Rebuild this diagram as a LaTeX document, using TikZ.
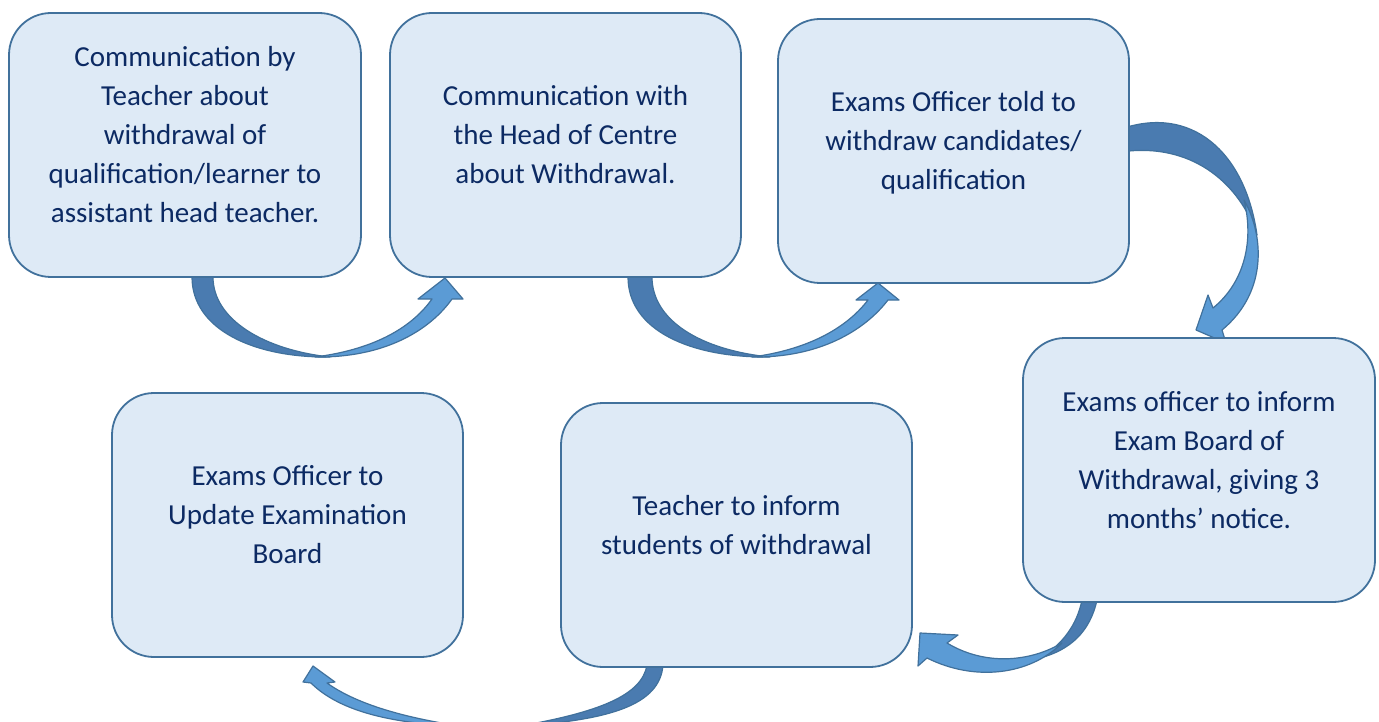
\documentclass[tikz,border=0pt]{standalone}
\usepackage{fontspec}
\setmainfont{Carlito}
\definecolor{boxfill}{HTML}{DEEAF6}
\definecolor{boxline}{HTML}{41719C}
\definecolor{txt}{HTML}{0C2A63}
\definecolor{arrdark}{HTML}{4A7BB0}
\definecolor{arrlight}{HTML}{5B9BD5}
\begin{document}
\begin{tikzpicture}[x=1pt,y=-1pt,
  stepbox/.style={draw=boxline,fill=boxfill,line width=1.8pt,rounded corners=42pt},
  steptext/.style={text=txt,align=center,font=\fontsize{29}{39}\selectfont,inner sep=0pt},
  darkpart/.style={fill=arrdark,draw=boxline,line width=1.2pt,line join=round},
  lightpart/.style={fill=arrlight,draw=boxline,line width=1.2pt,line join=round}]
\useasboundingbox (0,0) rectangle (1379,722);
\clip (0,0) rectangle (1379,722);

% ---------- arrows (behind boxes) ----------
% arrow 1 -> 2
\path[darkpart] (192,270) -- (192,277) .. controls (192,330) and (255,358) .. (330,357)
   .. controls (265,350) and (213,320) .. (213,277) -- (213,270) -- cycle;
\path[lightpart] (315,357) .. controls (385,358) and (430,330) .. (452,299) -- (463,299) -- (445,278) -- (418,299) -- (432,299)
   .. controls (410,330) and (370,350) .. (315,357) -- cycle;
% arrow 2 -> 3
\path[darkpart] (628,270) -- (628,277) .. controls (628,330) and (690,358) .. (770,357)
   .. controls (700,350) and (652,320) .. (652,277) -- (652,270) -- cycle;
\path[lightpart] (752,357) .. controls (820,358) and (865,330) .. (888,300) -- (899,300) -- (878,283) -- (856,300) -- (868,300)
   .. controls (845,330) and (805,350) .. (752,357) -- cycle;
% arrow 3 -> 4
\path[darkpart] (1121,129) .. controls (1190,105) and (1245,150) .. (1257,235)
   .. controls (1240,185) and (1195,145) .. (1129,151) -- cycle;
\path[lightpart] (1244,200) .. controls (1264,235) and (1268,292) .. (1222,330) -- (1226,343) -- (1196,330) -- (1208,295) -- (1213,308)
   .. controls (1245,282) and (1254,240) .. (1244,200) -- cycle;
% arrow 4 -> 5
\path[darkpart] (1082,600) -- (1097,600) .. controls (1090,632) and (1070,650) .. (1040,658)
   .. controls (1062,645) and (1077,625) .. (1082,600) -- cycle;
\path[lightpart] (1062,643) .. controls (1030,675) and (975,682) .. (927,658) -- (918,666) -- (920,633) -- (958,635) -- (947,643)
   .. controls (985,666) and (1030,662) .. (1062,643) -- cycle;
% arrow 5 -> 6
\path[darkpart] (647,665) -- (663,665) .. controls (660,705) and (610,720) .. (520,726)
   .. controls (600,712) and (642,695) .. (647,665) -- cycle;
\path[lightpart] (460,726) .. controls (395,724) and (340,712) .. (311,683) -- (303,682) -- (313,666) -- (335,682) -- (327,683)
   .. controls (355,703) and (400,717) .. (460,726) -- cycle;

% ---------- boxes ----------
\node[stepbox,minimum width=352pt,minimum height=264pt] (b1) at (185,145) {};
\node[stepbox,minimum width=351pt,minimum height=264pt] (b2) at (565.5,145) {};
\node[stepbox,minimum width=351pt,minimum height=264pt] (b3) at (953.5,151) {};
\node[stepbox,minimum width=352pt,minimum height=264pt] (b4) at (1199,470) {};
\node[stepbox,minimum width=351pt,minimum height=264pt] (b5) at (736.5,535) {};
\node[stepbox,minimum width=351pt,minimum height=264pt] (b6) at (287.5,525) {};

% ---------- texts ----------
\node[steptext] (t1) at ([yshift=8pt]b1.center) {\strut Communication by\\Teacher about\\withdrawal of\\qualification/learner to\\assistant head teacher.\strut};
\node[steptext] (t2) at ([yshift=8pt]b2.center) {\strut Communication with\\the Head of Centre\\about Withdrawal.\strut};
\node[steptext] (t3) at ([yshift=8pt]b3.center) {\strut Exams Officer told to\\withdraw candidates/\\qualification\strut};
\node[steptext] (t4) at ([yshift=8pt]b4.center) {\strut Exams officer to inform\\Exam Board of\\Withdrawal, giving 3\\months’ notice.\strut};
\node[steptext] (t5) at ([yshift=8pt]b5.center) {\strut Teacher to inform\\students of withdrawal\strut};
\node[steptext] (t6) at ([yshift=8pt]b6.center) {\strut Exams Officer to\\Update Examination\\Board\strut};
\end{tikzpicture}
\end{document}
